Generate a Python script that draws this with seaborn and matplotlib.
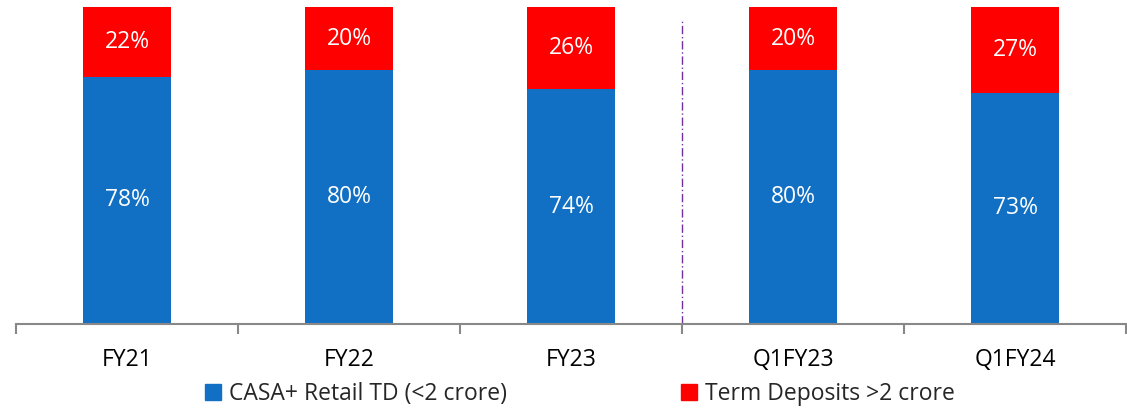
import numpy as np
import pandas as pd
import matplotlib
matplotlib.use('Agg')
import matplotlib.pyplot as plt
import seaborn as sns
from matplotlib.patches import Patch

categories = ['FY21', 'FY22', 'FY23', 'Q1FY23', 'Q1FY24']
casa_retail = [78, 80, 74, 80, 73]
term_deposits = [22, 20, 26, 20, 27]
legend_labels = ['CASA+ Retail TD (<2 crore)', 'Term Deposits >2 crore']

blue = '#1170C4'
red = '#FF0000'

sns.set_style('white')
plt.rcParams['font.family'] = ['Open Sans', 'DejaVu Sans']

df = pd.DataFrame({'cat': categories, 'blue': casa_retail, 'red': term_deposits})
df['total'] = df['blue'] + df['red']

fig = plt.figure(figsize=(11.27, 4.15), dpi=100)
ax = fig.add_axes([0.0142, 0.219, 0.985, 0.764])

sns.barplot(data=df, x='cat', y='total', color=red, width=0.4, saturation=1, linewidth=0, ax=ax)
sns.barplot(data=df, x='cat', y='blue', color=blue, width=0.4, saturation=1, linewidth=0, ax=ax)

for i, row in df.iterrows():
    ax.text(i, row['blue'] / 2, f"{row['blue']}%", ha='center', va='center', color='white', fontsize=16.5)
    ax.text(i, row['blue'] + row['red'] / 2, f"{row['red']}%", ha='center', va='center', color='white', fontsize=16.5)

# separator between annual and quarterly
ax.plot([2.5, 2.5], [0, 96], color='#7030A0', linestyle=(0, (6, 2, 1, 2)), linewidth=1)

ax.set_ylim(0, 100)
ax.set_xlim(-0.5, 4.5)
ax.set_yticks([])
ax.set_xlabel('')
ax.set_ylabel('')
for s in ['top', 'right', 'left']:
    ax.spines[s].set_visible(False)
ax.spines['bottom'].set_color('#888888')
ax.spines['bottom'].set_linewidth(1.5)
ax.set_xticks(np.arange(-0.5, 5, 1), minor=True)
ax.tick_params(axis='x', which='minor', bottom=True, length=7, width=1.5, color='#888888', direction='out')
ax.tick_params(axis='x', which='major', bottom=True, length=0, pad=17, labelsize=16.5, labelcolor='black')

handles = [Patch(color=blue), Patch(color=red)]
fig.legend(handles, legend_labels, loc='center', bbox_to_anchor=(0.5145, 0.05), ncol=2,
           frameon=False, fontsize=16.5, handlelength=0.7, handleheight=0.7,
           handletextpad=0.35, columnspacing=7.6)

fig.savefig('out.png', dpi=100)
